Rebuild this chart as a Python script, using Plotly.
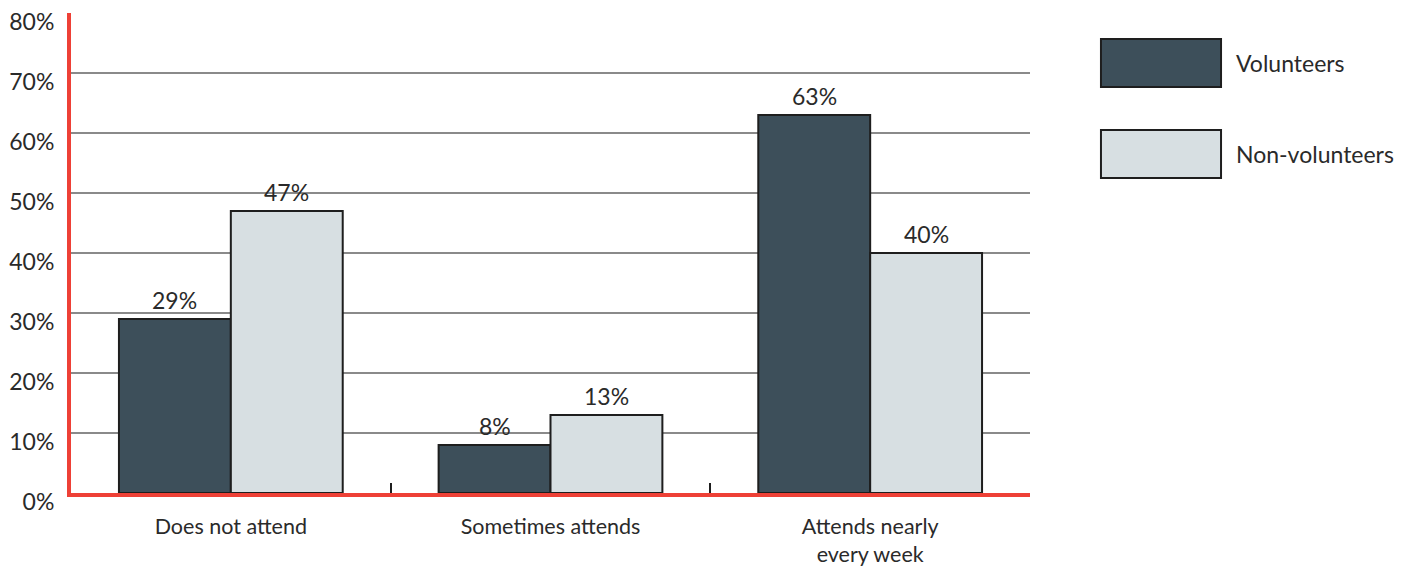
import plotly.graph_objects as go

categories = ["Does not attend", "Sometimes attends", "Attends nearly<br>every week"]
volunteers = [29, 8, 63]
non_volunteers = [47, 13, 40]
series_names = ["Volunteers", "Non-volunteers"]
y_ticks = [0, 10, 20, 30, 40, 50, 60, 70, 80]
y_tick_labels = [f"{v}%" for v in y_ticks]

dark = "#3d4f5a"
light = "#d7dfe2"
edge = "#1e1e1e"
red = "#ee4036"
font_family = "Lato, 'Open Sans', sans-serif"
text_color = "#2a2a2a"

fig = go.Figure()
for name, vals, col in [(series_names[0], volunteers, dark), (series_names[1], non_volunteers, light)]:
    fig.add_trace(go.Bar(
        x=categories, y=vals, name=name,
        marker=dict(color=col, line=dict(color=edge, width=2)),
        showlegend=False,
    ))

# Value labels above each bar (half a bar width left/right of the category centre)
half_bar_px = 56
for vals, shift in [(volunteers, -half_bar_px), (non_volunteers, half_bar_px)]:
    for cat, v in zip(categories, vals):
        fig.add_annotation(x=cat, y=v, text=f"{v}%", showarrow=False,
                           xshift=shift, yshift=19, yanchor="middle",
                           font=dict(size=23, color=text_color))

fig.update_layout(
    width=1413, height=567,
    margin=dict(l=71, r=383, t=13, b=74),
    paper_bgcolor="white", plot_bgcolor="white",
    barmode="group", bargap=0.3, bargroupgap=0,
    font=dict(family=font_family, size=23, color=text_color),
)
fig.update_yaxes(
    range=[0, 80], tickvals=y_ticks, ticktext=y_tick_labels,
    showgrid=True, gridcolor="#8a8a8a", gridwidth=1.5,
    showline=True, linecolor=red, linewidth=4,
    zeroline=False, ticks="", ticklabelstandoff=8, ticklabelshift=9,
    tickfont=dict(size=23, color=text_color), automargin=False,
)
fig.update_xaxes(
    showline=True, linecolor=red, linewidth=4,
    tickson="boundaries", ticks="inside", ticklen=10, tickwidth=2, tickcolor="#1e1e1e",
    ticklabelstandoff=11, automargin=False,
    tickfont=dict(size=21.5, color=text_color),
)

# Legend swatches drawn as boxes with labels
legend_rows = [(0.9458, 0.8458, dark, series_names[0]), (0.7563, 0.6563, light, series_names[1])]
for top, bottom, col, label in legend_rows:
    fig.add_shape(type="rect", xref="paper", yref="paper",
                  x0=1.074, x1=1.1992, y0=bottom, y1=top,
                  fillcolor=col, line=dict(color=edge, width=2))
    fig.add_annotation(xref="paper", yref="paper", x=1.213, y=(top + bottom) / 2,
                       text=label, showarrow=False, xanchor="left", yanchor="middle",
                       font=dict(size=23, color=text_color))

fig.write_html("out.html")
